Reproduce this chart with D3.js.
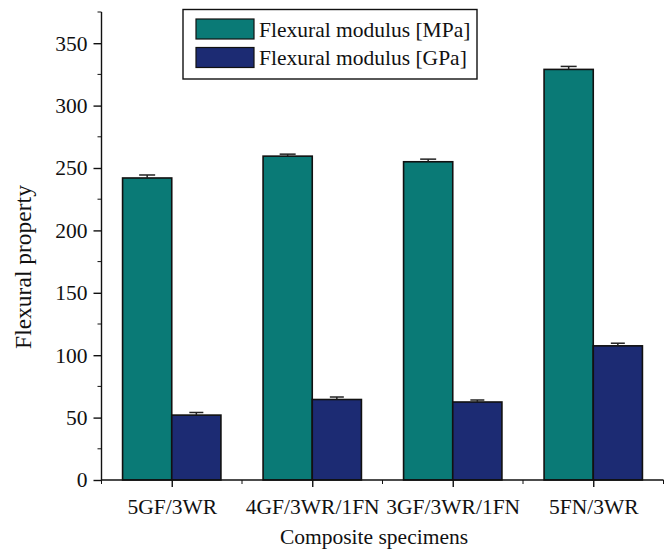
<!DOCTYPE html>
<html>
<head>
<meta charset="utf-8">
<script src="https://cdn.jsdelivr.net/npm/d3@7"></script>
<style>
  html, body { margin: 0; padding: 0; background: #fff; }
  svg { display: block; }
  text { font-family: "Liberation Serif", "Times New Roman", serif; fill: #111; }
</style>
</head>
<body>
<svg id="chart" width="671" height="550"></svg>
<script>
// Composite specimens on the x axis
const categories = ["5GF/3WR", "4GF/3WR/1FN", "3GF/3WR/1FN", "5FN/3WR"];
// Series names (legend)
const seriesNames = ["Flexural modulus [MPa]", "Flexural modulus [GPa]"];
// Bar values per series
const modulusMPa = [242, 259.5, 255, 329];
const modulusGPa = [52, 64.5, 62.5, 107.5];
// Upward error amounts per series
const errMPa = [2.4, 1.6, 2.1, 2.4];
const errGPa = [2.1, 2.0, 1.6, 2.1];
// Y axis tick values
const yMajorTicks = [0, 50, 100, 150, 200, 250, 300, 350];
const yMinorTicks = [25, 75, 125, 175, 225, 275, 325, 375];

const colors = ["#0a7a76", "#1c2b73"];

const svg = d3.select("#chart");
const plotLeft = 101.5, plotRight = 663.5, plotTop = 12, plotBottom = 480;

const x0 = d3.scaleBand().domain(categories).range([plotLeft, plotRight])
  .paddingInner(0.3).paddingOuter(0.15);
const x1 = d3.scaleBand().domain(seriesNames).range([0, x0.bandwidth()]);
const y = d3.scaleLinear().domain([0, 375]).range([plotBottom, plotTop]);

const series = [
  { name: seriesNames[0], values: modulusMPa, errs: errMPa, color: colors[0] },
  { name: seriesNames[1], values: modulusGPa, errs: errGPa, color: colors[1] }
];

// Bars
const groups = svg.append("g").selectAll("g").data(series).join("g");
groups.selectAll("rect")
  .data(s => categories.map((c, i) => ({ c, v: s.values[i], e: s.errs[i], s })))
  .join("rect")
  .attr("x", d => x0(d.c) + x1(d.s.name))
  .attr("y", d => y(d.v))
  .attr("width", x1.bandwidth())
  .attr("height", d => y(0) - y(d.v))
  .attr("fill", d => d.s.color)
  .attr("stroke", "#111")
  .attr("stroke-width", 1.6);

// Error bars (upper half)
const errG = svg.append("g").attr("stroke", "#222").attr("stroke-width", 1.5);
series.forEach(s => {
  categories.forEach((c, i) => {
    const cx = x0(c) + x1(s.name) + x1.bandwidth() / 2;
    const capW = s === series[0] ? 8 : 7;
    errG.append("line")
      .attr("x1", cx).attr("x2", cx)
      .attr("y1", y(s.values[i])).attr("y2", y(s.values[i] + s.errs[i]));
    errG.append("line")
      .attr("x1", cx - capW).attr("x2", cx + capW)
      .attr("y1", y(s.values[i] + s.errs[i])).attr("y2", y(s.values[i] + s.errs[i]));
  });
});

// Y axis
const yAxis = svg.append("g").attr("transform", `translate(${plotLeft},0)`)
  .call(d3.axisLeft(y).tickValues(yMajorTicks).tickSize(8).tickSizeOuter(0).tickPadding(6));
yAxis.select(".domain").attr("d", `M0,${plotBottom}V${plotTop}`);
yAxis.selectAll("text").attr("font-size", 21.5).style("font-family", "Liberation Serif");
yAxis.append("g").selectAll("line").data(yMinorTicks).join("line")
  .attr("x1", -4).attr("x2", 0).attr("y1", d => y(d)).attr("y2", d => y(d))
  .attr("stroke", "#111");

// X axis
const xCenters = d3.scalePoint().domain(categories)
  .range([x0(categories[0]) + x0.bandwidth() / 2, x0(categories[3]) + x0.bandwidth() / 2]);
const xAxis = svg.append("g").attr("transform", `translate(0,${plotBottom})`)
  .call(d3.axisBottom(xCenters).tickSize(7).tickSizeOuter(0).tickPadding(12));
xAxis.select(".domain").attr("d", `M${plotLeft},0H${plotRight}`);
xAxis.selectAll("text").attr("font-size", 21.5).style("font-family", "Liberation Serif");
const edges = [plotLeft].concat(categories.map(c => x0(c) + x0.bandwidth() / 2 + x0.step() / 2));
xAxis.append("g").selectAll("line").data(edges).join("line")
  .attr("x1", d => d).attr("x2", d => d).attr("y1", 0).attr("y2", 4)
  .attr("stroke", "#111");

svg.selectAll(".domain, .tick line").attr("stroke", "#111").attr("stroke-width", 1.4);

// Axis titles
svg.append("text").attr("x", 374).attr("y", 544)
  .attr("text-anchor", "middle").attr("font-size", 21.5).text("Composite specimens");
svg.append("text").attr("transform", `translate(31,267) rotate(-90)`)
  .attr("text-anchor", "middle").attr("font-size", 23.5).text("Flexural property");

// Legend
const lg = svg.append("g");
lg.append("rect").attr("x", 183).attr("y", 9.5).attr("width", 294).attr("height", 69.5)
  .attr("fill", "#fff").attr("stroke", "#111").attr("stroke-width", 1.4);
series.forEach((s, i) => {
  lg.append("rect").attr("x", 196).attr("y", 19 + i * 28.5).attr("width", 58).attr("height", 20)
    .attr("fill", s.color).attr("stroke", "#111").attr("stroke-width", 1.2);
  lg.append("text").attr("x", 259).attr("y", 36.5 + i * 28.5).attr("font-size", 21.5).text(s.name);
});
</script>
</body>
</html>
